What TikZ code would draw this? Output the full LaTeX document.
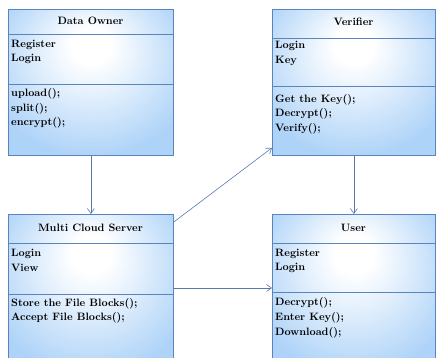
\documentclass[tikz,border=0pt]{standalone}
\usetikzlibrary{arrows.meta,calc}
\definecolor{boxline}{HTML}{5A84BE}
\definecolor{boxblue}{HTML}{AED3F8}
\definecolor{linkline}{HTML}{5878AE}
% soft radial fill, lighter towards the upper middle of each class box
\pgfdeclareradialshading{classfill}{\pgfpoint{0bp}{14bp}}{%
  color(0bp)=(white); color(6bp)=(white); color(32bp)=(boxblue); color(60bp)=(boxblue)}
\tikzset{
  classbox/.style={draw=boxline, line width=0.8pt, shading=classfill,
    rectangle, inner sep=0pt, anchor=north west},
  divider/.style={draw=boxline, line width=0.8pt},
  title/.style={anchor=base, inner sep=0pt, font=\fontsize{10.7}{13}\selectfont\bfseries},
  member/.style={anchor=base west, inner sep=0pt, align=left,
    font=\fontsize{10.7}{13}\selectfont\bfseries},
  link/.style={draw=linkline, line width=0.6pt,
    -{Straight Barb[length=5pt,width=7pt,line width=0.6pt]}}
}
\begin{document}
\begin{tikzpicture}[x=1pt,y=-1pt]
\useasboundingbox (0,0) rectangle (436,358);
\clip (0,0) rectangle (436,358);

% class boxes
\node[classbox, minimum width=165pt, minimum height=146pt] (do)  at (8,9) {};
\node[classbox, minimum width=163pt, minimum height=146pt] (ver) at (272,9) {};
\node[classbox, minimum width=165pt, minimum height=160pt] (mcs) at (8,214) {};
\node[classbox, minimum width=163pt, minimum height=160pt] (usr) at (272,214) {};

% compartments
\draw[divider] (8,34) -- (173,34);
\draw[divider] (8,84) -- (173,84);
\draw[divider] (272,38) -- (435,38);
\draw[divider] (272,86) -- (435,86);
\draw[divider] (8,243) -- (173,243);
\draw[divider] (8,294) -- (173,294);
\draw[divider] (272,243) -- (435,243);
\draw[divider] (272,292) -- (435,292);

% Data Owner
\node[title] (doT) at (90.5,25) {Data Owner};
\node[member] (doA1) at (11,47.5) {Register};
\node[member] (doA2) at (11,62) {Login};
\node[member] (doM1) at (11,97) {upload();};
\node[member] (doM2) at (11,111.5) {split();};
\node[member] (doM3) at (11,126) {encrypt();};

% Verifier
\node[title] (verT) at (353.5,26) {Verifier};
\node[member] (verA1) at (275,49) {Login};
\node[member] (verA2) at (275,64) {Key};
\node[member] (verM1) at (275,102.5) {Get the Key();};
\node[member] (verM2) at (275,117) {Decrypt();};
\node[member] (verM3) at (275,131.5) {Verify();};

% Multi Cloud Server
\node[title] (mcsT) at (90.5,231.5) {Multi Cloud Server};
\node[member] (mcsA1) at (11,256.5) {Login};
\node[member] (mcsA2) at (11,271) {View};
\node[member] (mcsM1) at (11,306) {Store the File Blocks();};
\node[member] (mcsM2) at (11,320.5) {Accept File Blocks();};

% User
\node[title] (usrT) at (353.5,231.5) {User};
\node[member] (usrA1) at (275,256) {Register};
\node[member] (usrA2) at (275,270.5) {Login};
\node[member] (usrM1) at (275,305.5) {Decrypt();};
\node[member] (usrM2) at (275,320.5) {Enter Key();};
\node[member] (usrM3) at (275,335) {Download();};

% associations
\coordinate (mcsUp)  at ($(mcs.north east)+(0,8)$);
\coordinate (verLow) at ($(ver.south west)+(0,-8)$);
\coordinate (mcsMid) at ($(mcs.north east)+(0,74)$);
\draw[link] (do.south) -- (do.south |- mcs.north);
\draw[link] (ver.south) -- (ver.south |- usr.north);
\draw[link] (mcsUp) -- (verLow);
\draw[link] (mcsMid) -- (mcsMid -| usr.west);
\end{tikzpicture}
\end{document}
